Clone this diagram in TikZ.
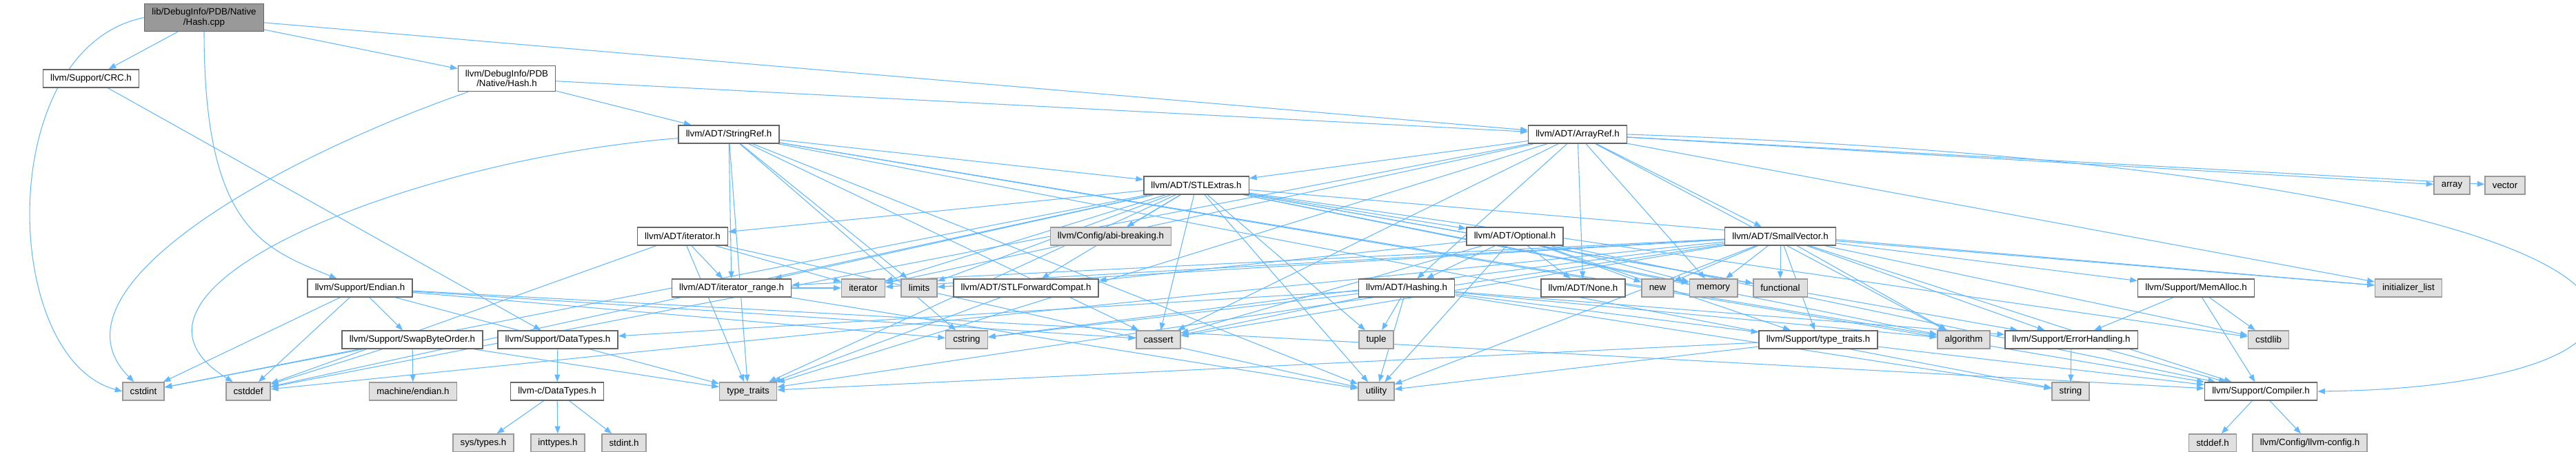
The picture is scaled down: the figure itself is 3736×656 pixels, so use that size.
\documentclass[tikz,border=0pt]{standalone}
\usepackage{fontspec}
\setmainfont{Liberation Sans}
\usetikzlibrary{arrows.meta,backgrounds}
\definecolor{edgeblue}{HTML}{63B8FF}
\definecolor{rootgray}{HTML}{999999}
\definecolor{framegray}{HTML}{666666}
\definecolor{sysgray}{HTML}{E0E0E0}
\definecolor{sysframe}{HTML}{999999}
\tikzset{
  filebox/.style  = {rectangle, line width=1.1pt, inner xsep=8pt, inner ysep=5pt,
                     minimum height=19.5pt, align=center, text=black,
                     font=\fontsize{10}{10.7}\selectfont},
  srcfile/.style  = {filebox, draw=framegray, fill=rootgray},
  hdr/.style      = {filebox, draw=framegray, fill=white},
  syshdr/.style   = {filebox, draw=sysframe, fill=sysgray},
  arrow/.style    = {-{Triangle[length=8pt,width=6pt]}, draw=edgeblue, line width=0.8pt},
}

\begin{document}
\begin{tikzpicture}[x=0.75pt, y=-0.75pt]
  \useasboundingbox (0,0) rectangle (3736,656);

  % top rows
  \node[srcfile] (hashcpp) at (296,25.5) {lib/DebugInfo/PDB/Native\\/Hash.cpp};
  \node[hdr] (crc)     at (132,114)  {llvm/Support/CRC.h};
  \node[hdr] (pdbhash) at (735,114)  {llvm/DebugInfo/PDB\\/Native/Hash.h};
  \node[hdr] (strref)  at (1057,195) {llvm/ADT/StringRef.h};
  \node[hdr] (arrref)  at (2288,195) {llvm/ADT/ArrayRef.h};
  \node[hdr] (stlext)  at (1735,269) {llvm/ADT/STLExtras.h};
  \node[syshdr] (arr)  at (3556,269) {array};
  \node[syshdr] (vec)  at (3633,269) {vector};

  % middle rows
  \node[hdr] (iterh)     at (990,343)  {llvm/ADT/iterator.h};
  \node[syshdr] (abibrk) at (1611,343) {llvm/Config/abi-breaking.h};
  \node[hdr] (optional)  at (2197,343) {llvm/ADT/Optional.h};
  \node[hdr] (smallvec)  at (2582,343) {llvm/ADT/SmallVector.h};

  \node[hdr] (endian)        at (522,418)  {llvm/Support/Endian.h};
  \node[hdr] (itrange)       at (1061,418) {llvm/ADT/iterator\_range.h};
  \node[syshdr] (iter)       at (1252,418) {iterator};
  \node[syshdr] (limits)     at (1333,418) {limits};
  \node[hdr] (fwdcompat)     at (1488,418) {llvm/ADT/STLForwardCompat.h};
  \node[hdr] (hashing)       at (2040,418) {llvm/ADT/Hashing.h};
  \node[hdr] (none)          at (2296,418) {llvm/ADT/None.h};
  \node[syshdr] (new)        at (2404,418) {new};
  \node[syshdr] (memory)     at (2485,418) {memory};
  \node[syshdr] (functional) at (2582,418) {functional};
  \node[hdr] (memalloc)      at (3185,418) {llvm/Support/MemAlloc.h};
  \node[syshdr] (initlist)   at (3493,418) {initializer\_list};

  \node[hdr] (swapbo)       at (598,493)  {llvm/Support/SwapByteOrder.h};
  \node[hdr] (datatypes)    at (809,493)  {llvm/Support/DataTypes.h};
  \node[syshdr] (cstring)   at (1402,493) {cstring};
  \node[syshdr] (cassert)   at (1680,493) {cassert};
  \node[syshdr] (tuple)     at (1996,493) {tuple};
  \node[hdr] (typetraitsh)  at (2637,493) {llvm/Support/type\_traits.h};
  \node[syshdr] (algorithm) at (2848,493) {algorithm};
  \node[hdr] (errhandling)  at (3004,493) {llvm/Support/ErrorHandling.h};
  \node[syshdr] (cstdlib)   at (3290,493) {cstdlib};

  % bottom rows
  \node[syshdr] (cstdint)    at (208,568)  {cstdint};
  \node[syshdr] (cstddef)    at (360,568)  {cstddef};
  \node[syshdr] (machendian) at (599,568)  {machine/endian.h};
  \node[hdr] (cdatatypes)    at (808,568)  {llvm-c/DataTypes.h};
  \node[syshdr] (typetraits) at (1085,568) {type\_traits};
  \node[syshdr] (utility)    at (1996,568) {utility};
  \node[syshdr] (string)     at (3003,568) {string};
  \node[hdr] (compiler)      at (3279,568) {llvm/Support/Compiler.h};

  \node[syshdr] (systypes)   at (701,643)  {sys/types.h};
  \node[syshdr] (inttypes)   at (809,643)  {inttypes.h};
  \node[syshdr] (stdinth)    at (905,643)  {stdint.h};
  \node[syshdr] (stddefh)    at (3209,643) {stddef.h};
  \node[syshdr] (llvmconfig) at (3350,643) {llvm/Config/llvm-config.h};

  \begin{scope}[on background layer]
  % Hash.cpp
  \draw[arrow] (hashcpp) -- (pdbhash);
  \draw[arrow] (hashcpp) -- (arrref);
  \draw[arrow] (hashcpp) -- (crc);
  \draw[arrow] (hashcpp.south) .. controls (296,330) and (380,360) .. (endian);
  \draw[arrow] (hashcpp.west) .. controls (-10,70) and (0,520) .. (cstdint.west);
  \draw[arrow] (crc) -- (datatypes);

  % Native/Hash.h
  \draw[arrow] (pdbhash) -- (arrref);
  \draw[arrow] (pdbhash) -- (strref);
  \draw[arrow] (pdbhash) .. controls (400,230) and (60,420) .. (cstdint);

  % StringRef.h
  \draw[arrow] (strref) -- (stlext);
  \draw[arrow] (strref) -- (itrange);
  \draw[arrow] (strref) -- (compiler);
  \draw[arrow] (strref) -- (algorithm);
  \draw[arrow] (strref) -- (cassert);
  \draw[arrow] (strref) .. controls (600,230) and (120,420) .. (cstddef);
  \draw[arrow] (strref) -- (cstring);
  \draw[arrow] (strref) -- (limits);
  \draw[arrow] (strref) -- (string);
  \draw[arrow] (strref) -- (typetraits);
  \draw[arrow] (strref) -- (utility);

  % ArrayRef.h
  \draw[arrow] (arrref) -- (hashing);
  \draw[arrow] (arrref) -- (none);
  \draw[arrow] (arrref) -- (stlext);
  \draw[arrow] (arrref) -- (smallvec);
  \draw[arrow] (arrref.east) .. controls (4000,250) and (4000,560) .. (compiler.east);
  \draw[arrow] (arrref) -- (algorithm);
  \draw[arrow] (arrref) -- (arr);
  \draw[arrow] (arrref) -- (cassert);
  \draw[arrow] (arrref) -- (cstddef);
  \draw[arrow] (arrref) -- (initlist);
  \draw[arrow] (arrref) -- (iter);
  \draw[arrow] (arrref) -- (memory);
  \draw[arrow] (arrref) -- (typetraits);
  \draw[arrow] (arrref) -- (vec);

  % STLExtras.h
  \draw[arrow] (stlext) -- (optional);
  \draw[arrow] (stlext) -- (fwdcompat);
  \draw[arrow] (stlext) -- (iterh);
  \draw[arrow] (stlext) -- (itrange);
  \draw[arrow] (stlext) -- (abibrk);
  \draw[arrow] (stlext) -- (errhandling);
  \draw[arrow] (stlext) -- (algorithm);
  \draw[arrow] (stlext) -- (cassert);
  \draw[arrow] (stlext) -- (cstddef);
  \draw[arrow] (stlext) -- (cstdint);
  \draw[arrow] (stlext) -- (cstdlib);
  \draw[arrow] (stlext) -- (functional);
  \draw[arrow] (stlext) -- (initlist);
  \draw[arrow] (stlext) -- (iter);
  \draw[arrow] (stlext) -- (limits);
  \draw[arrow] (stlext) -- (memory);
  \draw[arrow] (stlext) -- (tuple);
  \draw[arrow] (stlext) -- (typetraits);
  \draw[arrow] (stlext) -- (utility);

  % Optional.h
  \draw[arrow] (optional) -- (hashing);
  \draw[arrow] (optional) -- (none);
  \draw[arrow] (optional) -- (fwdcompat);
  \draw[arrow] (optional) -- (compiler);
  \draw[arrow] (optional) -- (typetraitsh);
  \draw[arrow] (optional) -- (cassert);
  \draw[arrow] (optional) -- (memory);
  \draw[arrow] (optional) -- (new);
  \draw[arrow] (optional) -- (utility);

  % Hashing.h
  \draw[arrow] (hashing) -- (datatypes);
  \draw[arrow] (hashing) -- (errhandling);
  \draw[arrow] (hashing) -- (typetraitsh);
  \draw[arrow] (hashing) -- (algorithm);
  \draw[arrow] (hashing) -- (cassert);
  \draw[arrow] (hashing) -- (cstring);
  \draw[arrow] (hashing) -- (string);
  \draw[arrow] (hashing) -- (tuple);
  \draw[arrow] (hashing) -- (utility);

  % SmallVector.h
  \draw[arrow] (smallvec) -- (itrange);
  \draw[arrow] (smallvec) -- (compiler);
  \draw[arrow] (smallvec) -- (errhandling);
  \draw[arrow] (smallvec) -- (memalloc);
  \draw[arrow] (smallvec) -- (typetraitsh);
  \draw[arrow] (smallvec) -- (algorithm);
  \draw[arrow] (smallvec) -- (cassert);
  \draw[arrow] (smallvec) -- (cstddef);
  \draw[arrow] (smallvec) -- (cstdlib);
  \draw[arrow] (smallvec) -- (cstring);
  \draw[arrow] (smallvec) -- (functional);
  \draw[arrow] (smallvec) -- (initlist);
  \draw[arrow] (smallvec) -- (iter);
  \draw[arrow] (smallvec) -- (limits);
  \draw[arrow] (smallvec) -- (memory);
  \draw[arrow] (smallvec) -- (new);
  \draw[arrow] (smallvec) -- (typetraits);
  \draw[arrow] (smallvec) -- (utility);

  % iterator.h, iterator_range.h, STLForwardCompat.h
  \draw[arrow] (iterh) -- (itrange);
  \draw[arrow] (iterh) -- (cstddef);
  \draw[arrow] (iterh) -- (iter);
  \draw[arrow] (iterh) -- (typetraits);
  \draw[arrow] (iterh) -- (utility);
  \draw[arrow] (itrange) -- (iter);
  \draw[arrow] (itrange) -- (utility);
  \draw[arrow] (fwdcompat) -- (typetraits);

  % Endian.h, SwapByteOrder.h, DataTypes.h
  \draw[arrow] (endian) -- (compiler);
  \draw[arrow] (endian) -- (swapbo);
  \draw[arrow] (endian) -- (cassert);
  \draw[arrow] (endian) -- (cstddef);
  \draw[arrow] (endian) -- (cstdint);
  \draw[arrow] (endian) -- (cstring);
  \draw[arrow] (endian) -- (typetraits);
  \draw[arrow] (swapbo) -- (cstddef);
  \draw[arrow] (swapbo) -- (cstdint);
  \draw[arrow] (swapbo) -- (typetraits);
  \draw[arrow] (swapbo) -- (machendian);
  \draw[arrow] (datatypes) -- (cdatatypes);
  \draw[arrow] (cdatatypes) -- (inttypes);
  \draw[arrow] (cdatatypes) -- (stdinth);
  \draw[arrow] (cdatatypes) -- (systypes);

  % Support headers
  \draw[arrow] (typetraitsh) -- (compiler);
  \draw[arrow] (typetraitsh) -- (typetraits);
  \draw[arrow] (typetraitsh) -- (utility);
  \draw[arrow] (errhandling) -- (compiler);
  \draw[arrow] (errhandling) -- (string);
  \draw[arrow] (memalloc) -- (compiler);
  \draw[arrow] (memalloc) -- (errhandling);
  \draw[arrow] (memalloc) -- (cstdlib);
  \draw[arrow] (compiler) -- (llvmconfig);
  \draw[arrow] (compiler) -- (stddefh);
  \end{scope}
\end{tikzpicture}
\end{document}
